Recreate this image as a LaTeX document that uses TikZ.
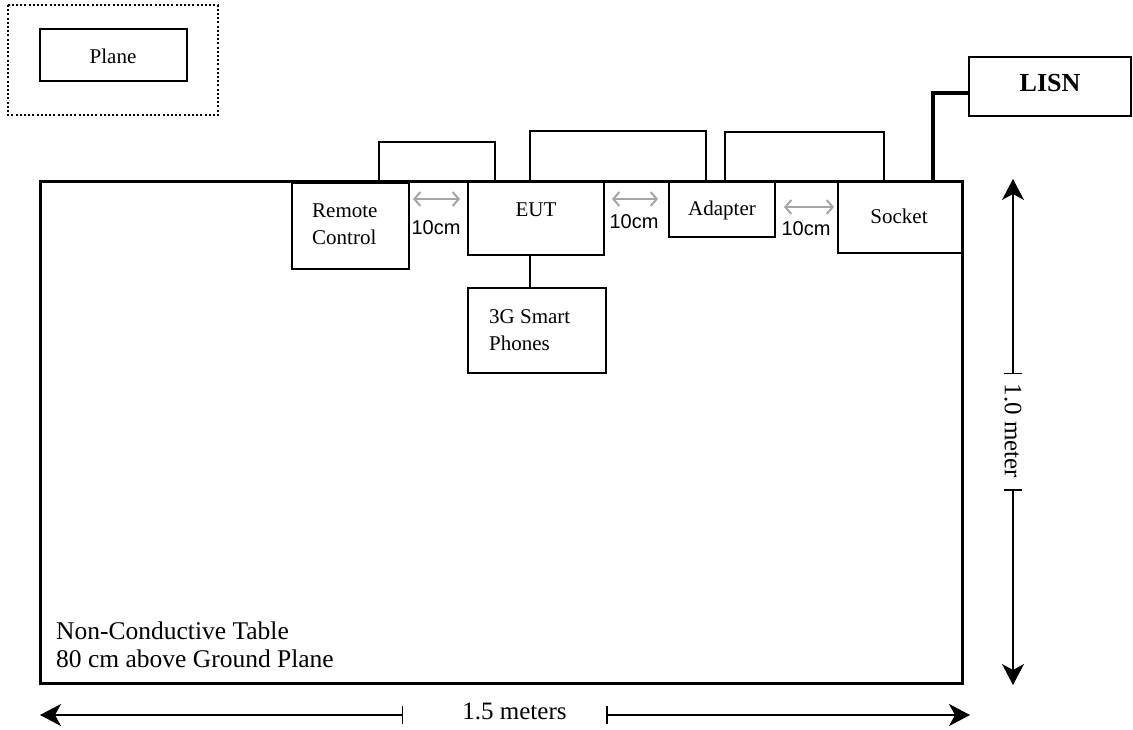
\documentclass[tikz,border=0pt]{standalone}
\usepackage{fontspec}
\setmainfont{Liberation Serif}
\newfontfamily\arialf{Liberation Sans}
\usetikzlibrary{arrows.meta,calc}
\definecolor{arrgray}{RGB}{165,165,165}
\tikzset{
  boxst/.style={draw=black, line width=2pt, rectangle, inner sep=0pt, outer sep=0pt},
  tablest/.style={draw=black, line width=3pt},
  lbl/.style={font=\fontsize{21}{27}\selectfont, inner sep=0pt},
  cable/.style={draw=black, line width=2pt},
  wire/.style={draw=black, line width=3.5pt},
  gaparrow/.style={draw=arrgray, line width=2pt, {Straight Barb[length=6pt,width=14pt]}-{Straight Barb[length=6pt,width=14pt]}},
  dimline/.style={draw=black, line width=1.5pt},
  dimtip/.tip={Stealth[length=21pt,width=22pt,inset=6pt]},
  dimbar/.tip={Bar[width=18pt,line width=1.5pt]},
  cmlbl/.style={font=\arialf\fontsize{20}{24}\selectfont, inner sep=0pt}
}
\begin{document}
\begin{tikzpicture}[x=1pt,y=-1pt]
\useasboundingbox (0,0) rectangle (1133,730);
% table
\draw[tablest] (40,182) rectangle (962,683);
% plane
\draw[line width=2.2pt, dash pattern=on 2pt off 2.2pt] (8,5) rectangle (218,115);
\node[boxst, minimum width=147pt, minimum height=52pt] (plane) at (113.5,55) {};
\node[lbl] at (113,56) {Plane};
% boxes
\node[boxst, minimum width=117pt, minimum height=86pt] (remote) at (350.5,226) {};
\node[boxst, minimum width=136pt, minimum height=73pt] (eut) at (536,218.5) {};
\node[boxst, minimum width=106pt, minimum height=55pt] (adapter) at (722,209.5) {};
\node[boxst, minimum width=124pt, minimum height=71pt] (socket) at (900,217.5) {};
\node[boxst, minimum width=138pt, minimum height=85pt] (phones) at (537,330.5) {};
\node[boxst, minimum width=162pt, minimum height=59pt] (lisn) at (1050,86.5) {};
% labels
\node[lbl, anchor=west, align=left] at (312,224) {Remote\\Control};
\node[lbl] at (536,210) {EUT};
\node[lbl] at (722,210) {Adapter};
\node[lbl] at (899,216) {Socket};
\node[lbl, anchor=west, align=left] at (489,330) {3G Smart\\Phones};
\node[font=\bfseries\fontsize{26}{30}\selectfont, inner sep=0pt] at (1050,83) {LISN};
\node[font=\fontsize{25.5}{28}\selectfont, inner sep=0pt, anchor=west, align=left] at (56,645) {Non-Conductive Table\\80 cm above Ground Plane};
% cables
\draw[cable] ([xshift=28.5pt]remote.north) -- ++(0,-41) -| ([xshift=-41pt]eut.north);
\draw[cable] ([xshift=-6pt]eut.north) -- ++(0,-51) -| ([xshift=-16pt]adapter.north);
\draw[cable] ([xshift=3pt]adapter.north) -- ++(0,-50) -| ([xshift=-16pt]socket.north);
\draw[cable] ([xshift=-6pt]eut.south) -- ([xshift=-7pt]phones.north);
\draw[wire] ([xshift=33pt]socket.north) |- ([yshift=-6.5pt]lisn.west);
% 10cm gaps
\coordinate (g1) at ([yshift=27pt]remote.east);
\coordinate (g2) at ([yshift=19.5pt]eut.east);
\coordinate (g3) at ([yshift=2.5pt]adapter.east);
\draw[gaparrow, shorten <=4pt, shorten >=8pt] (g1) -- (g1 -| eut.west);
\draw[gaparrow, shorten <=8pt, shorten >=11pt] (g2) -- (g2 -| adapter.west);
\draw[gaparrow, shorten <=9pt, shorten >=4pt] (g3) -- (g3 -| socket.west);
\node[cmlbl] at (436,228) {10cm};
\node[cmlbl] at (634,222) {10cm};
\node[cmlbl] at (806,229) {10cm};
% dimension: vertical
\coordinate (vt) at (1013,179);
\coordinate (v1) at (1013,374);
\coordinate (v2) at (1013,489);
\coordinate (vb) at (1013,685);
\draw[dimline, dimtip-dimbar] (vt) -- (v1);
\draw[dimline, dimbar-dimtip] (v2) -- (vb);
\node[font=\fontsize{25}{28}\selectfont, inner sep=0pt, rotate=-90] at (1013,431) {1.0 meter};
% dimension: horizontal
\coordinate (hl) at (40,715);
\coordinate (h1) at (403,715);
\coordinate (h2) at (606,715);
\coordinate (hr) at (970,715);
\draw[dimline, dimtip-dimbar] (hl) -- (h1);
\draw[dimline, dimbar-dimtip] (h2) -- (hr);
\node[font=\fontsize{25}{28}\selectfont, inner sep=0pt, anchor=base] at (514.5,719) {1.5 meters};
\end{tikzpicture}
\end{document}
